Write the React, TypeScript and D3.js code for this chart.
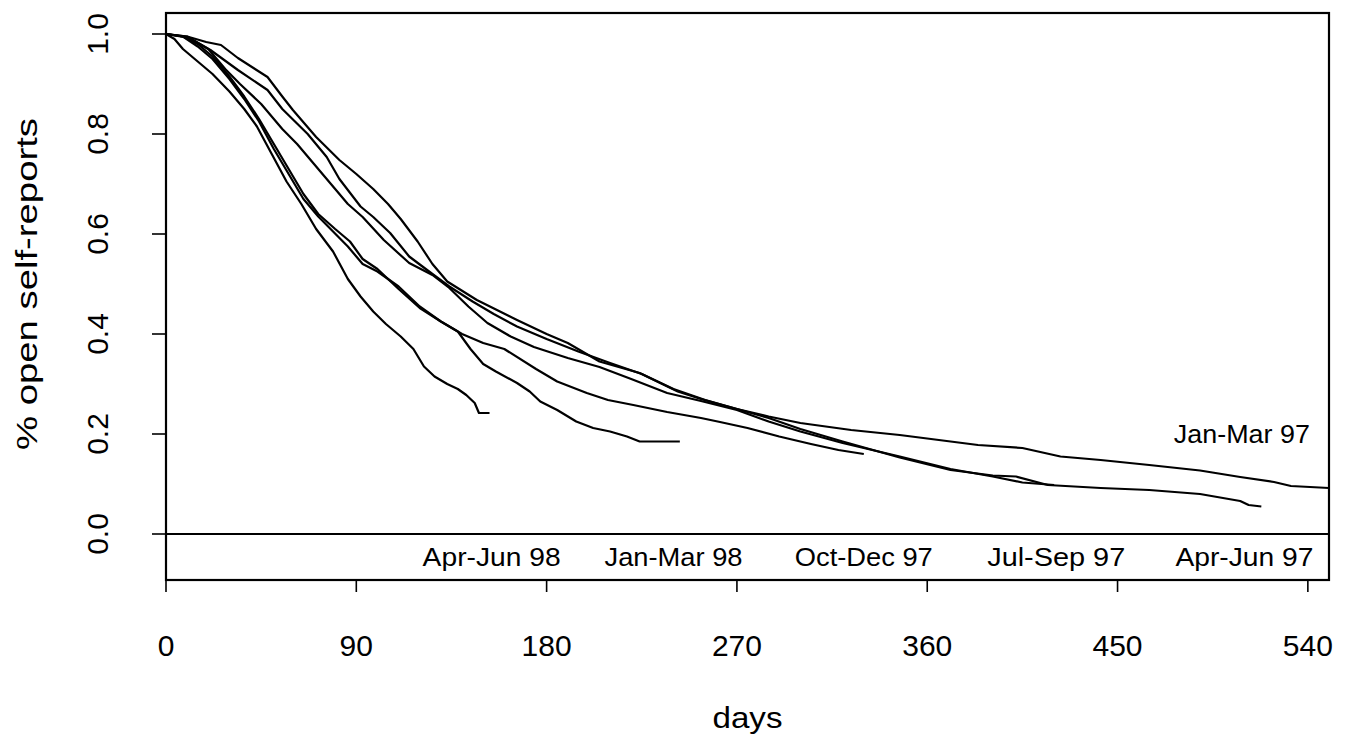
import React from "react";
import * as d3 from "d3";

type P = [number, number];

const seriesNames = ["Apr-Jun 98", "Jan-Mar 98", "Oct-Dec 97", "Jul-Sep 97", "Apr-Jun 97", "Jan-Mar 97"];

const aprJun98: P[] = [
  [0, 1], [4, 0.99], [8, 0.97], [15, 0.945], [22, 0.92], [30, 0.885], [37, 0.85], [43, 0.815],
  [50, 0.76], [57, 0.705], [64, 0.66], [71, 0.61], [79, 0.565], [86, 0.51], [92, 0.475],
  [98, 0.445], [104, 0.42], [111, 0.395], [117, 0.37], [122, 0.335], [127, 0.315], [133, 0.3],
  [138, 0.29], [142, 0.278], [146, 0.262], [148, 0.242], [153, 0.242],
];

const janMar98: P[] = [
  [0, 1], [8, 0.995], [15, 0.975], [22, 0.95], [30, 0.91], [37, 0.87], [44, 0.825], [51, 0.77],
  [58, 0.72], [65, 0.67], [72, 0.635], [79, 0.605], [86, 0.575], [93, 0.54], [100, 0.525],
  [110, 0.495], [120, 0.455], [130, 0.425], [138, 0.405], [144, 0.37], [150, 0.34], [156, 0.325],
  [166, 0.302], [172, 0.285], [177, 0.265], [185, 0.248], [194, 0.225], [202, 0.212], [210, 0.205],
  [218, 0.195], [224, 0.185], [243, 0.185],
];

const octDec97: P[] = [
  [0, 1], [8, 0.995], [15, 0.98], [22, 0.955], [30, 0.915], [37, 0.875], [44, 0.83], [51, 0.78],
  [58, 0.73], [65, 0.68], [72, 0.64], [80, 0.61], [87, 0.585], [93, 0.55], [100, 0.53],
  [110, 0.49], [120, 0.452], [130, 0.425], [140, 0.4], [150, 0.382], [160, 0.37], [175, 0.33],
  [185, 0.305], [199, 0.282], [209, 0.268], [221, 0.258], [237, 0.244], [253, 0.232], [262, 0.224],
  [275, 0.212], [290, 0.195], [305, 0.18], [318, 0.168], [330, 0.16],
];

const julSep97: P[] = [
  [0, 1], [10, 0.995], [20, 0.97], [28, 0.93], [35, 0.9], [45, 0.86], [55, 0.81], [62, 0.78],
  [70, 0.74], [78, 0.7], [86, 0.66], [93, 0.634], [103, 0.588], [115, 0.542], [126, 0.518],
  [134, 0.492], [143, 0.455], [152, 0.422], [163, 0.395], [174, 0.374], [190, 0.352], [205, 0.334],
  [220, 0.31], [237, 0.282], [253, 0.266], [270, 0.248], [285, 0.225], [300, 0.205], [320, 0.182],
  [347, 0.155], [371, 0.13], [391, 0.115], [405, 0.103], [420, 0.098],
];

const aprJun97: P[] = [
  [0, 1], [11, 0.992], [21, 0.968], [34, 0.928], [48, 0.888], [55, 0.85], [67, 0.8], [76, 0.754],
  [82, 0.71], [92, 0.655], [98, 0.634], [106, 0.602], [115, 0.555], [126, 0.52], [134, 0.495],
  [145, 0.465], [155, 0.44], [166, 0.415], [180, 0.39], [195, 0.365], [210, 0.342], [225, 0.32],
  [240, 0.29], [255, 0.268], [270, 0.25], [285, 0.232], [300, 0.21], [320, 0.185], [347, 0.153],
  [371, 0.128], [391, 0.117], [402, 0.115], [417, 0.098], [442, 0.092], [465, 0.088], [489, 0.08],
  [508, 0.066], [512, 0.058], [518, 0.055],
];

const janMar97: P[] = [
  [0, 1], [10, 0.995], [19, 0.984], [26, 0.978], [34, 0.952], [48, 0.914], [55, 0.875], [60, 0.848],
  [71, 0.794], [82, 0.748], [90, 0.72], [98, 0.69], [105, 0.66], [111, 0.63], [119, 0.585],
  [126, 0.54], [133, 0.505], [147, 0.468], [166, 0.428], [180, 0.4], [190, 0.382], [205, 0.345],
  [224, 0.322], [242, 0.285], [253, 0.27], [270, 0.25], [285, 0.235], [300, 0.222], [324, 0.208],
  [347, 0.198], [384, 0.178], [405, 0.172], [423, 0.155], [442, 0.148], [465, 0.138], [489, 0.127],
  [508, 0.114], [524, 0.104], [532, 0.096], [550, 0.092],
];

const seriesData: P[][] = [aprJun98, janMar98, octDec97, julSep97, aprJun97, janMar97];

const xTicks = [0, 90, 180, 270, 360, 450, 540];
const yTicks = [0, 0.2, 0.4, 0.6, 0.8, 1.0];
const bottomLabelDays = [154, 240, 330, 421, 510];
const topLabel = { name: "Jan-Mar 97", day: 540, value: 0.2 };

const FONT = "'Liberation Sans', Arial, Helvetica, sans-serif";

export default function App() {
  const x = d3.scaleLinear().domain([0, 550]).range([166, 1329]);
  const y = d3.scaleLinear().domain([0, 1]).range([534, 34]);
  const line = d3
    .line<P>()
    .x((d) => x(d[0]))
    .y((d) => y(d[1]))
    .curve(d3.curveLinear);

  const boxTop = y(1.042);
  const boxBottom = y(-0.092);
  const boxLeft = x(0);
  const boxRight = x(550);

  return (
    <svg
      width={1354}
      height={742}
      style={{ position: "absolute", left: 0, top: 0, background: "#fff" }}
      fontFamily={FONT}
    >
      <rect x={0} y={0} width={1354} height={742} fill="#fff" />
      {/* curves */}
      <g fill="none" stroke="#000" strokeWidth={2.2} strokeLinejoin="round">
        {seriesData.map((s, i) => (
          <path key={seriesNames[i]} d={line(s) || ""} />
        ))}
      </g>
      {/* zero line */}
      <line x1={boxLeft} x2={boxRight} y1={y(0)} y2={y(0)} stroke="#000" strokeWidth={2.2} />
      {/* frame */}
      <rect
        x={boxLeft}
        y={boxTop}
        width={boxRight - boxLeft}
        height={boxBottom - boxTop}
        fill="none"
        stroke="#000"
        strokeWidth={2.2}
      />
      {/* x axis ticks */}
      {xTicks.map((t) => (
        <g key={"x" + t}>
          <line x1={x(t)} x2={x(t)} y1={boxBottom} y2={boxBottom + 12} stroke="#000" strokeWidth={1.6} />
          <text x={x(t)} y={656} textAnchor="middle" fontSize={30}>
            {String(t)}
          </text>
        </g>
      ))}
      {/* y axis ticks */}
      {yTicks.map((t) => (
        <g key={"y" + t}>
          <line x1={boxLeft} x2={boxLeft - 14} y1={y(t)} y2={y(t)} stroke="#000" strokeWidth={1.6} />
          <text
            transform={`translate(108,${y(t)}) rotate(-90)`}
            textAnchor="middle"
            fontSize={30}
          >
            {t.toFixed(1)}
          </text>
        </g>
      ))}
      {/* axis titles */}
      <text
        x={(boxLeft + boxRight) / 2}
        y={728}
        textAnchor="middle"
        fontSize={30}
        textLength={70}
        lengthAdjust="spacingAndGlyphs"
      >
        days
      </text>
      <text
        transform={`translate(37,${(y(0) + y(1)) / 2}) rotate(-90)`}
        textAnchor="middle"
        fontSize={30}
        textLength={332}
        lengthAdjust="spacingAndGlyphs"
      >
        % open self-reports
      </text>
      {/* series labels */}
      {bottomLabelDays.map((d, i) => (
        <text
          key={"l" + i}
          x={x(d)}
          y={y(-0.046)}
          dy="0.36em"
          textAnchor="middle"
          fontSize={26}
          textLength={138}
          lengthAdjust="spacingAndGlyphs"
        >
          {seriesNames[i]}
        </text>
      ))}
      <text
        x={x(topLabel.day) + 2}
        y={y(topLabel.value)}
        dy="0.36em"
        textAnchor="end"
        fontSize={26}
        textLength={136}
        lengthAdjust="spacingAndGlyphs"
      >
        {topLabel.name}
      </text>
    </svg>
  );
}
